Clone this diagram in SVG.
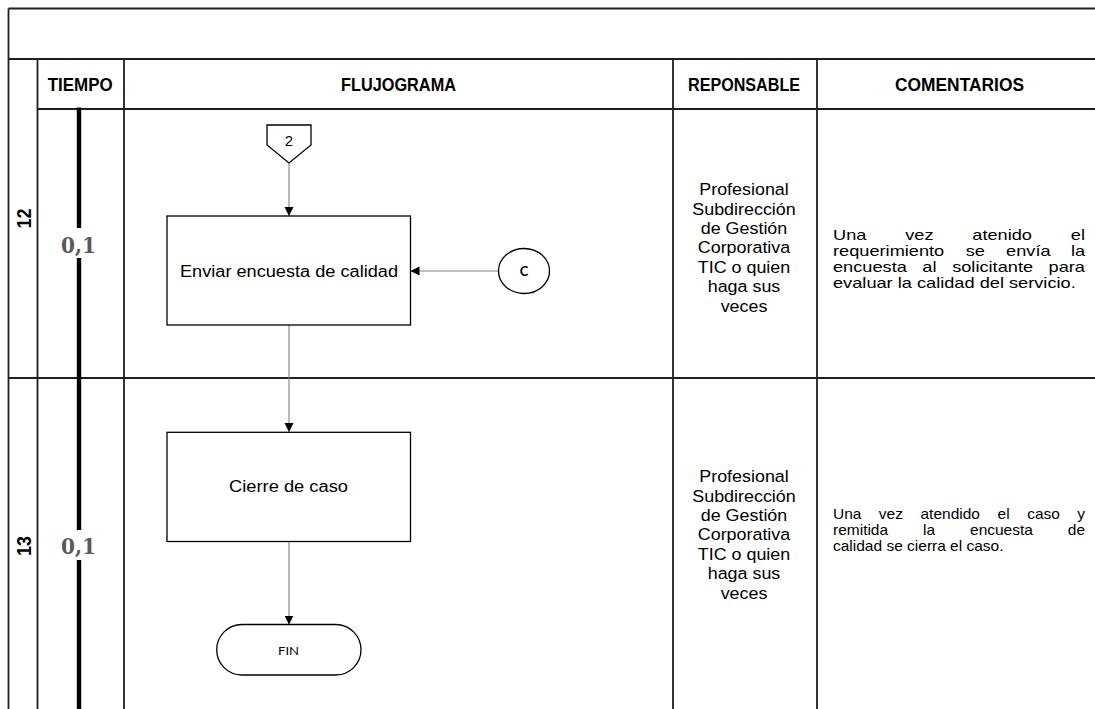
<svg xmlns="http://www.w3.org/2000/svg" width="1095" height="709" viewBox="0 0 1095 709">
<defs>
<marker id="arr" markerUnits="userSpaceOnUse" markerWidth="10" markerHeight="10" refX="9" refY="5" orient="auto">
<path d="M0,0.5 L9,5 L0,9.5 Z" fill="#000"/>
</marker>
<style>
.grid{stroke:#1f1f1f;stroke-width:1.8;fill:none}
.hdr{font-family:"Liberation Sans",Arial,sans-serif;font-weight:bold;font-size:18px;fill:#000}
.num{font-family:"Liberation Sans",Arial,sans-serif;font-weight:bold;font-size:21px;fill:#000}
.time{font-family:"DejaVu Serif",serif;font-weight:bold;font-size:23px;fill:#595959}
.bar{fill:#000}
.shape{fill:#fff;stroke:#000;stroke-width:1.3}
.conn{stroke:#808080;stroke-width:1.1;fill:none}
.t{font-family:"Liberation Sans",Arial,sans-serif;font-size:16px;fill:#000}
.resp{font-family:"Liberation Sans",Arial,sans-serif;font-size:16.5px;fill:#000;text-anchor:middle}
.com{font-family:"Liberation Sans",Arial,sans-serif;font-size:14.3px;fill:#000}
.small{font-family:Lato,"Open Sans",sans-serif;font-size:12px;fill:#000}
</style>
</defs>
<rect width="1095" height="709" fill="#fff"/>

<g id="table">
<path class="grid" d="M8.5,8.5 H1095 M8.5,59 H1095 M37.5,109 H1095 M8.5,378 H1095 M8.5,8.5 V709 M37.5,59 V709 M124,59 V709 M673,59 V709 M817,59 V709"/>
<text class="hdr" x="47.7" y="91" textLength="65" lengthAdjust="spacingAndGlyphs">TIEMPO</text>
<text class="hdr" x="341" y="91" textLength="115" lengthAdjust="spacingAndGlyphs">FLUJOGRAMA</text>
<text class="hdr" x="688" y="91" textLength="112" lengthAdjust="spacingAndGlyphs">REPONSABLE</text>
<text class="hdr" x="895" y="91" textLength="129" lengthAdjust="spacingAndGlyphs">COMENTARIOS</text>
<text class="num" transform="translate(31 218.5) rotate(-90)" x="-10" y="0" textLength="20" lengthAdjust="spacingAndGlyphs">12</text>
<text class="num" transform="translate(31 546) rotate(-90)" x="-10" y="0" textLength="20" lengthAdjust="spacingAndGlyphs">13</text>
<rect class="bar" x="76.8" y="107.5" width="4.4" height="120.5"/>
<rect class="bar" x="76.8" y="258" width="4.4" height="272"/>
<rect class="bar" x="76.8" y="560" width="4.4" height="149"/>
<text class="time" x="61" y="253" textLength="35" lengthAdjust="spacingAndGlyphs">0,1</text>
<text class="time" x="61" y="554" textLength="35" lengthAdjust="spacingAndGlyphs">0,1</text>
</g>

<g id="responsable-12" transform="translate(744 0) scale(1.085 1)">
<text class="resp" x="0" y="195.3">Profesional</text>
<text class="resp" x="0" y="214.7">Subdirección</text>
<text class="resp" x="0" y="234.1">de Gestión</text>
<text class="resp" x="0" y="253.5">Corporativa</text>
<text class="resp" x="0" y="272.9">TIC o quien</text>
<text class="resp" x="0" y="292.3">haga sus</text>
<text class="resp" x="0" y="311.7">veces</text>
</g>
<g id="responsable-13" transform="translate(744 287) scale(1.085 1)">
<text class="resp" x="0" y="195.3">Profesional</text>
<text class="resp" x="0" y="214.7">Subdirección</text>
<text class="resp" x="0" y="234.1">de Gestión</text>
<text class="resp" x="0" y="253.5">Corporativa</text>
<text class="resp" x="0" y="272.9">TIC o quien</text>
<text class="resp" x="0" y="292.3">haga sus</text>
<text class="resp" x="0" y="311.7">veces</text>
</g>

<g id="comentario-12" transform="translate(833 0) scale(1.273 1)">
<text class="com" y="240.5"><tspan x="0">Una</tspan><tspan x="56.7">vez</tspan><tspan x="109.4">atenido</tspan><tspan x="186.8">el</tspan></text>
<text class="com" y="256.5"><tspan x="0">requerimiento</tspan><tspan x="104.2">se</tspan><tspan x="136">envía</tspan><tspan x="186.9">la</tspan></text>
<text class="com" y="272.5"><tspan x="0">encuesta</tspan><tspan x="70.2">al</tspan><tspan x="93.6">solicitante</tspan><tspan x="169.3">para</tspan></text>
<text class="com" y="288.5" x="0">evaluar la calidad del servicio.</text>
</g>
<g id="comentario-13" transform="translate(833 0) scale(1.084 1)">
<text class="com" y="519"><tspan x="0">Una</tspan><tspan x="42.3">vez</tspan><tspan x="80.7">atendido</tspan><tspan x="151.8">el</tspan><tspan x="179.1">caso</tspan><tspan x="225.4">y</tspan></text>
<text class="com" y="535"><tspan x="0">remitida</tspan><tspan x="83">la</tspan><tspan x="126.4">encuesta</tspan><tspan x="216.6">de</tspan></text>
<text class="com" y="551" x="0">calidad se cierra el caso.</text>
</g>

<g id="connectors">
<line class="conn" x1="289" y1="163" x2="289" y2="216" marker-end="url(#arr)"/>
<line class="conn" x1="498" y1="271" x2="410.5" y2="271" marker-end="url(#arr)"/>
<line class="conn" x1="289" y1="325" x2="289" y2="432" marker-end="url(#arr)"/>
<line class="conn" x1="289" y1="541.5" x2="289" y2="624.5" marker-end="url(#arr)"/>
</g>

<g id="node-2">
<polygon class="shape" points="267,125 311,125 311,145 289,163 267,145"/>
<text x="289" y="145.5" text-anchor="middle" style="font-family:'Liberation Sans',Arial,sans-serif;font-size:15px">2</text>
</g>
<g id="node-enviar">
<rect class="shape" x="167" y="216" width="243.5" height="109"/>
<text class="t" x="180" y="276.7" textLength="218" lengthAdjust="spacingAndGlyphs">Enviar encuesta de calidad</text>
</g>
<g id="node-C">
<ellipse class="shape" cx="524" cy="271" rx="25.5" ry="22.5"/>
<text x="524" y="276" text-anchor="middle" style="font-family:Lato,'Open Sans',sans-serif;font-weight:bold;font-size:13px">C</text>
</g>
<g id="node-cierre">
<rect class="shape" x="167" y="432.3" width="243.5" height="109.2"/>
<text class="t" x="229" y="492.3" textLength="119" lengthAdjust="spacingAndGlyphs">Cierre de caso</text>
</g>
<g id="node-fin">
<rect class="shape" x="216.7" y="624.5" width="144.3" height="50.5" rx="25.25" ry="25.25"/>
<text class="small" x="278" y="655" textLength="21" lengthAdjust="spacingAndGlyphs">FIN</text>
</g>
</svg>
